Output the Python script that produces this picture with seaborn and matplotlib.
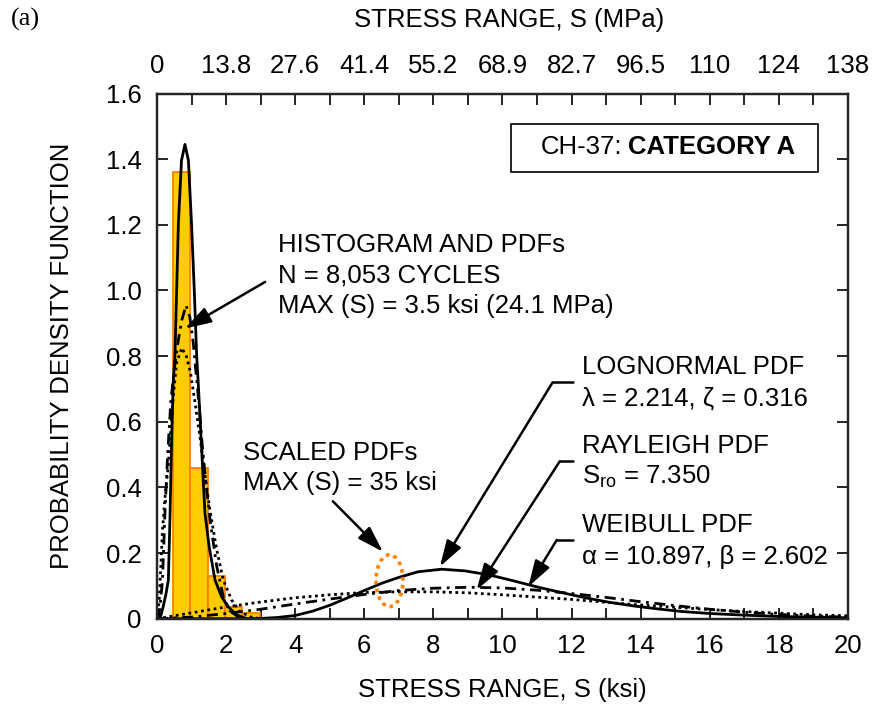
import numpy as np
import matplotlib
matplotlib.use("Agg")
import matplotlib.pyplot as plt
from matplotlib.patches import Ellipse, Rectangle
from matplotlib.ticker import MultipleLocator
import seaborn as sns

# --- histogram of measured stress ranges (ksi) ---
bin_edges = [0.47, 0.97, 1.47, 1.97, 2.47, 2.97]
bin_density = [1.361, 0.459, 0.131, 0.037, 0.017]

# --- PDFs fitted to the histogram (MAX (S) = 3.5 ksi) ---
hist_logn_x = [0.0, 0.1, 0.18, 0.26, 0.33, 0.38, 0.42, 0.47, 0.52, 0.57, 0.62, 0.71, 0.81,
               0.91, 1.0, 1.08, 1.15, 1.2, 1.29, 1.34, 1.39, 1.51, 1.68, 1.87, 2.06, 2.3, 2.6]
hist_logn_y = [0.0, 0.005, 0.037, 0.075, 0.118, 0.321, 0.524, 0.72, 0.80, 1.0, 1.204, 1.396, 1.445,
               1.396, 1.204, 1.0, 0.80, 0.707, 0.524, 0.42, 0.321, 0.22, 0.118, 0.067, 0.037, 0.012, 0.0]
hist_weib_x = [0.0, 0.05, 0.09, 0.16, 0.23, 0.31, 0.40, 0.50, 0.62, 0.72, 0.84, 0.95, 1.05,
               1.13, 1.22, 1.31, 1.42, 1.55, 1.73, 1.92, 2.1, 2.35, 2.6]
hist_weib_y = [0.0, 0.01, 0.037, 0.118, 0.321, 0.50, 0.66, 0.76, 0.85, 0.91, 0.955, 0.92, 0.84,
               0.75, 0.65, 0.53, 0.41, 0.29, 0.16, 0.067, 0.025, 0.006, 0.0]
hist_rayl_x = [0.0, 0.03, 0.07, 0.16, 0.24, 0.33, 0.47, 0.57, 0.72, 0.85, 0.97, 1.1, 1.25,
               1.4, 1.55, 1.73, 1.92, 2.16, 2.4, 2.7, 3.0]
hist_rayl_y = [0.0, 0.02, 0.066, 0.27, 0.38, 0.47, 0.675, 0.78, 0.825, 0.80, 0.75, 0.66, 0.55,
               0.43, 0.32, 0.21, 0.118, 0.057, 0.022, 0.006, 0.0]

# --- scaled PDFs (MAX (S) = 35 ksi) ---
scal_logn_x = [0, 2.5, 3, 3.5, 4, 4.5, 5, 5.5, 6, 6.5, 7, 7.55, 8.24, 8.9, 9.6, 10.3, 11, 11.7,
               12.4, 13.1, 13.8, 14.5, 15.2, 16, 17, 18, 19, 20]
scal_logn_y = [0, 0.0002, 0.001, 0.004, 0.010, 0.023, 0.041, 0.063, 0.086, 0.108, 0.126, 0.143,
               0.151, 0.146, 0.134, 0.116, 0.097, 0.080, 0.064, 0.050, 0.039, 0.030, 0.022,
               0.016, 0.011, 0.007, 0.005, 0.003]
scal_weib_x = [0, 1, 2, 3, 4, 5, 6, 7, 8, 9, 10, 11, 12, 13, 14, 15, 16, 17, 18, 19, 20]
scal_weib_y = [0, 0.005, 0.016, 0.029, 0.045, 0.060, 0.074, 0.086, 0.093, 0.096, 0.094, 0.087,
               0.077, 0.065, 0.052, 0.040, 0.029, 0.020, 0.013, 0.008, 0.005]
scal_rayl_x = [0, 1, 2, 3, 4, 5, 6, 7, 8, 9, 10, 11, 12, 13, 14, 15, 16, 17, 18, 19, 20]
scal_rayl_y = [0, 0.018, 0.036, 0.051, 0.064, 0.073, 0.080, 0.082, 0.082, 0.079, 0.073, 0.066,
               0.059, 0.050, 0.042, 0.035, 0.028, 0.022, 0.017, 0.012, 0.009]

# --- axis ticks ---
ksi_ticks = [0, 2, 4, 6, 8, 10, 12, 14, 16, 18, 20]
mpa_labels = ["0", "13.8", "27.6", "41.4", "55.2", "68.9", "82.7", "96.5", "110", "124", "138"]
pdf_ticks = [0, 0.2, 0.4, 0.6, 0.8, 1.0, 1.2, 1.4, 1.6]
pdf_labels = ["0", "0.2", "0.4", "0.6", "0.8", "1.0", "1.2", "1.4", "1.6"]

sns.set_theme(style="ticks")
plt.rcParams["font.family"] = ["Liberation Sans", "DejaVu Sans"]
plt.rcParams["mathtext.default"] = "regular"
plt.rcParams.update({"text.color": "black", "axes.labelcolor": "black",
                     "xtick.color": "black", "ytick.color": "black"})

FS = 18.5
fig = plt.figure(figsize=(8.72, 7.10), dpi=100)
ax = fig.add_axes([0.180, 0.1285, 0.7925, 0.7398])

# histogram
centers = [(a + b) / 2 for a, b in zip(bin_edges[:-1], bin_edges[1:])]
sns.histplot(x=centers, weights=bin_density, bins=bin_edges, stat="count",
             color="#FFCC00", edgecolor="#FF8000", linewidth=1.3, alpha=1, ax=ax, zorder=1)

dashdot = (0, (4, 2, 1, 2))
dotted = (0, (1, 1.3))
for xs, ys, ls in [(hist_logn_x, hist_logn_y, "-"), (hist_weib_x, hist_weib_y, dashdot),
                   (hist_rayl_x, hist_rayl_y, dotted), (scal_logn_x, scal_logn_y, "-"),
                   (scal_weib_x, scal_weib_y, dashdot), (scal_rayl_x, scal_rayl_y, dotted)]:
    sns.lineplot(x=xs, y=ys, sort=False, estimator=None, color="black", lw=2,
                 linestyle=ls, ax=ax, zorder=3)

ax.set_xlim(0, 20)
ax.set_ylim(0, 1.6)
ax.set_xticks(ksi_ticks)
ax.set_xticklabels([str(t) for t in ksi_ticks])
ax.xaxis.set_minor_locator(MultipleLocator(1))
ax.set_yticks(pdf_ticks)
ax.set_yticklabels(pdf_labels)
ax.tick_params(which="both", direction="in", length=8, width=1.2, labelsize=FS,
               right=True, top=False, pad=11)
for s in ax.spines.values():
    s.set_visible(True)
    s.set_linewidth(1.6)
    s.set_color("black")
ax.set_xlabel("STRESS RANGE, S (ksi)", fontsize=FS)
ax.xaxis.set_label_coords(0.5, -0.1355)
ax.xaxis.label.set_va("center")
ax.set_ylabel("PROBABILITY DENSITY FUNCTION", fontsize=FS)
ax.yaxis.set_label_coords(-0.1375, 0.5)
ax.yaxis.label.set_va("center")

# top MPa axis
top = ax.twiny()
top.set_xlim(ax.get_xlim())
top.set_xticks(ksi_ticks)
top.set_xticklabels(mpa_labels)
top.xaxis.set_minor_locator(MultipleLocator(1))
top.tick_params(which="both", direction="in", length=8, width=1.2, labelsize=FS, pad=11)
top.set_xlabel("STRESS RANGE, S (MPa)", fontsize=FS)
top.xaxis.set_label_coords(0.51, 1.139)
top.xaxis.label.set_va("center")
for s in top.spines.values():
    s.set_linewidth(1.6)

# title box
ax.add_patch(Rectangle((10.24, 1.361), 8.9, 0.147, fill=False, lw=1.2, ec="black", zorder=4))
ax.text(13.48, 1.436, "CH-37:", fontsize=FS, ha="right", va="center")
ax.text(13.63, 1.436, "CATEGORY A", fontsize=FS, ha="left", va="center", fontweight="bold")

arrow = dict(arrowstyle="-|>,head_length=0.8,head_width=0.25", color="black", lw=1.8,
             shrinkA=0, shrinkB=0, mutation_scale=20)

# histogram annotation
for yy, txt in [(1.138, "HISTOGRAM AND PDFs"), (1.045, "N = 8,053 CYCLES"),
                (0.952, "MAX (S) = 3.5 ksi (24.1 MPa)")]:
    ax.text(3.51, yy, txt, fontsize=FS, va="center")
ax.annotate("", xy=(0.81, 0.884), xytext=(3.13, 1.026), arrowprops=arrow)

# scaled PDFs annotation
ax.text(2.50, 0.505, "SCALED PDFs", fontsize=FS, va="center")
ax.text(2.50, 0.414, "MAX (S) = 35 ksi", fontsize=FS, va="center")
ax.annotate("", xy=(6.54, 0.204), xytext=(5.09, 0.358), arrowprops=arrow)
ax.add_patch(Ellipse((6.73, 0.116), 0.78, 0.158, fill=False, ec="#FF7F00", lw=2.6,
                     ls=(0, (1, 1.2)), zorder=5))

# distribution labels with elbow leaders
labels = [
    ("LOGNORMAL PDF", "λ = 2.214, ζ = 0.316", 0.766, 0.672, 0.72, 11.45, (8.19, 0.159)),
    ("RAYLEIGH PDF", r"$S_{ro}$ = 7.350", 0.525, 0.431, 0.480, 11.66, (9.25, 0.088)),
    ("WEIBULL PDF", "α = 10.897, β = 2.602", 0.286, 0.188, 0.240, 11.57, (10.75, 0.098)),
]
for t1, t2, y1, y2, yl, xc, head in labels:
    ax.text(12.3, y1, t1, fontsize=FS, va="center")
    ax.text(12.3, y2, t2, fontsize=FS, va="center")
    ax.plot([12.05, xc], [yl, yl], color="black", lw=1.8)
    ax.annotate("", xy=head, xytext=(xc, yl), arrowprops=arrow)

fig.text(0.012, 0.972, "(a)", fontsize=19, family="Liberation Serif", va="center")

fig.savefig("out.png", dpi=100)
